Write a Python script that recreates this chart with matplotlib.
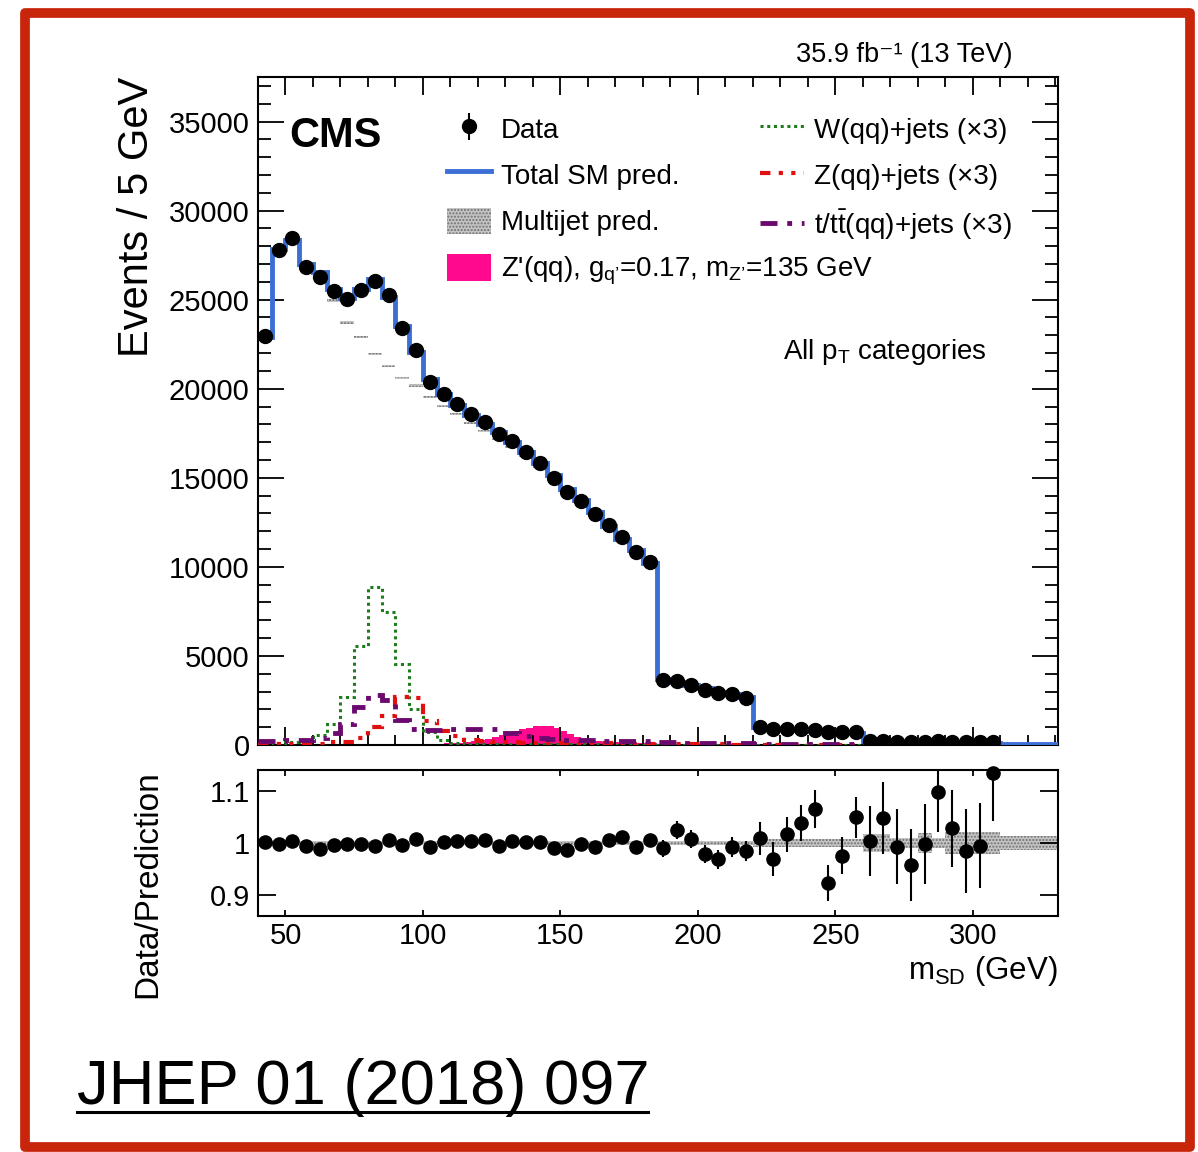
import numpy as np
import matplotlib.pyplot as plt
from matplotlib.patches import Rectangle
from matplotlib.lines import Line2D
from matplotlib.ticker import MultipleLocator

plt.rcParams['font.family'] = ['Liberation Sans', 'DejaVu Sans']
plt.rcParams['mathtext.fontset'] = 'custom'
plt.rcParams['mathtext.rm'] = 'Liberation Sans'
plt.rcParams['mathtext.it'] = 'Liberation Sans:italic'
plt.rcParams['mathtext.bf'] = 'Liberation Sans:bold'

# soft-drop mass binning, 5 GeV bins starting at 40 GeV
bin_lo = 40
bin_w = 5

# observed events, 40-310 GeV
data = [22940, 27770, 28465, 26836, 26275, 25505, 25056, 25562, 26050, 25281,
        23410, 22191, 20377, 19720, 19165, 18590, 18130, 17472, 17040, 16444,
        15826, 14983, 14197, 13708, 12978, 12377, 11703, 10860, 10260,
        3652, 3612, 3371, 3109, 2902, 2846, 2659,
        993, 918, 918, 880, 861, 712, 730, 730,
        225, 225, 190, 190, 170, 200, 190, 150, 150, 150]

# data / total prediction
ratio = [1.001, 0.998, 1.004, 0.994, 0.989, 0.996, 0.999, 0.999, 0.995, 1.006,
         0.996, 1.007, 0.993, 1.001, 1.004, 1.004, 1.006, 0.995, 1.003, 1.001,
         1.001, 0.990, 0.986, 0.998, 0.992, 1.005, 1.012, 0.992, 1.006,
         0.990, 1.025, 1.008, 0.979, 0.969, 0.992, 0.985,
         1.009, 0.969, 1.017, 1.038, 1.066, 0.924, 0.976, 1.049,
         1.004, 1.048, 0.993, 0.958, 0.998, 1.098, 1.028, 0.985, 0.995, 1.134]

# total prediction above 310 GeV (no data shown)
pred_tail = [45, 40, 35, 30, 30]

# V+jets templates scaled by 3, 40-335 GeV
w_jets = [60, 90, 150, 300, 562, 1161, 2715, 5562, 8858, 7452,
          4532, 2022, 749, 280, 120, 80, 60, 50, 45, 40,
          40, 38, 36, 34, 32, 30, 28, 26, 25,
          15, 15, 14, 13, 12, 12, 11,
          8, 8, 8, 7, 7, 6, 6, 6,
          4, 4, 4, 4, 3, 3, 3, 3, 3, 3,
          2, 2, 2, 2, 2]
z_jets = [40, 45, 50, 60, 80, 150, 190, 375, 1030, 1650,
          2715, 2650, 1350, 800, 500, 300, 220, 180, 150, 130,
          120, 110, 100, 95, 90, 85, 80, 75, 70,
          35, 35, 32, 30, 30, 28, 25,
          15, 15, 14, 14, 13, 12, 12, 12,
          6, 6, 6, 5, 5, 5, 5, 5, 4, 4,
          4, 4, 4, 4, 4]
top_jets = [200, 230, 260, 280, 420, 650, 1160, 2150, 2800, 2500,
            1400, 900, 850, 850, 900, 900, 900, 920, 650, 500,
            400, 350, 300, 280, 260, 250, 240, 230, 220,
            150, 145, 140, 135, 130, 125, 120,
            80, 78, 76, 74, 72, 70, 68, 66,
            40, 38, 36, 34, 32, 30, 28, 26, 24, 22,
            20, 18, 16, 14, 12]

# Z'(qq) signal: 5 GeV bins 40-100, 2.5 GeV bins 100-190, 5 GeV bins 190-335
sig_low = [50, 55, 60, 60, 60, 65, 65, 70, 70, 70, 70, 70]
sig_peak = [70, 70, 80, 90, 100, 120, 160, 200, 260, 330, 450, 560,
            700, 760, 880, 980, 1040, 1080, 1060, 980, 800, 600, 450, 330,
            270, 220, 190, 170, 150, 140, 130, 120, 110, 100, 80, 70]
sig_high = [65, 65, 60, 60, 60, 60, 60, 55, 55, 55, 55, 55, 50, 50, 50,
            50, 50, 50, 50, 50, 50, 50, 50, 50, 50, 50, 50, 50, 50]

# relative uncertainty of the prediction
band_edges = [40, 185, 220, 260, 270, 280, 285, 290, 310, 335]
band_unc = [0.003, 0.004, 0.008, 0.018, 0.010, 0.020, 0.010, 0.022, 0.013]

data = np.array(data, dtype=float)
ratio = np.array(ratio)
n_data = len(data)
n_bins = n_data + len(pred_tail)
edges = bin_lo + bin_w * np.arange(n_bins + 1)
centers = edges[:-1] + bin_w / 2

pred = np.concatenate([data / ratio, pred_tail])
vjets = (np.array(w_jets) + np.array(z_jets) + np.array(top_jets)) / 3.0
multijet = pred - vjets
unc_bin = np.array(band_unc)[np.searchsorted(band_edges, centers, side='right') - 1]

sig = np.concatenate([sig_low, sig_peak, sig_high])
sig_edges = np.concatenate([40 + 5 * np.arange(12), 100 + 2.5 * np.arange(36),
                            190 + 5 * np.arange(30)])

blue = '#3B6FD6'
pink = '#FF0A8E'
green = '#1E7B1E'
red = '#E01010'
purple = '#6B0A6E'
w_style = (0, (1, 1.2))
z_style = (0, (2.5, 2, 1, 2, 1, 2))
t_style = (0, (3.5, 2, 1, 2))
band_kw = dict(fill=True, facecolor='#c4c4c4', edgecolor='#707070', hatch='.....', linewidth=0)

fig = plt.figure(figsize=(11.98, 11.52), dpi=100)
ax = fig.add_axes([258 / 1198, 1 - 745 / 1152, 800 / 1198, 668 / 1152])
rax = fig.add_axes([258 / 1198, 1 - 916 / 1152, 800 / 1198, 146 / 1152])

# main panel
h_sig = ax.stairs(sig, sig_edges, fill=True, color=pink, baseline=0, zorder=1)
h_mj = ax.stairs(multijet * (1 + unc_bin), edges, baseline=multijet * (1 - unc_bin),
                 zorder=2, **band_kw)
ax.stairs(w_jets, edges, baseline=None, color=green, lw=2.2, linestyle=w_style, zorder=3)
ax.stairs(z_jets, edges, baseline=None, color=red, lw=3, linestyle=z_style, zorder=3)
ax.stairs(top_jets, edges, baseline=None, color=purple, lw=3.5, linestyle=t_style, zorder=3)
h_tot = ax.stairs(pred, edges, baseline=None, color=blue, lw=3.5, zorder=4)
h_data = ax.errorbar(centers[:n_data], data, yerr=np.sqrt(data), fmt='o', color='k',
                     ms=10, elinewidth=1.5, capsize=0, zorder=5)

ax.set_xlim(40, 331)
ax.set_ylim(0, 37500)
ax.xaxis.set_major_locator(MultipleLocator(50))
ax.xaxis.set_minor_locator(MultipleLocator(10))
ax.yaxis.set_major_locator(MultipleLocator(5000))
ax.yaxis.set_minor_locator(MultipleLocator(1000))
ax.tick_params(which='both', direction='in', top=True, right=True, width=1.3,
               labelsize=21, labelbottom=False, pad=6)
ax.tick_params(axis='y', which='major', length=19)
ax.tick_params(axis='y', which='minor', length=9.5)
ax.tick_params(axis='x', which='major', length=13)
ax.tick_params(axis='x', which='minor', length=7)
for s in ax.spines.values():
    s.set_linewidth(1.5)

ax.set_ylabel('Events / 5 GeV', fontsize=30, loc='top')
ax.yaxis.set_label_coords(-0.126, 1.0)

ax.text(0.039, 0.942, 'CMS', transform=ax.transAxes, fontsize=30,
        fontweight='bold', ha='left', va='top')
ax.text(0.656, 0.578, r'All p$_{\rm T}$ categories', transform=ax.transAxes,
        fontsize=20, ha='left', va='baseline')
fig.text(1012 / 1198, 1 - 62 / 1152, '35.9 fb\u207b\u00b9 (13 TeV)', fontsize=19.5,
         ha='right', va='baseline')

leg_kw = dict(frameon=False, fontsize=20, borderpad=0, borderaxespad=0,
              handlelength=1.6, handletextpad=0.35, handleheight=1.1,
              labelspacing=0.63, loc='upper left')
leg1 = ax.legend([h_data, h_tot, h_mj, h_sig],
                 ['Data', 'Total SM pred.', 'Multijet pred.',
                  "Z'(qq), g$_{\\rm q\u2019}$=0.17, m$_{\\rm Z\u2019}$=135 GeV"],
                 bbox_to_anchor=(0.236, 0.943), **leg_kw)
ax.add_artist(leg1)
ax.legend([Line2D([], [], color=green, lw=2.2, linestyle=w_style),
           Line2D([], [], color=red, lw=3, linestyle=z_style),
           Line2D([], [], color=purple, lw=3.5, linestyle=t_style)],
          ['W(qq)+jets (\u00d73)', 'Z(qq)+jets (\u00d73)',
           't/t$\\bar{\\rm t}$(qq)+jets (\u00d73)'],
          bbox_to_anchor=(0.6275, 0.943), **leg_kw)

# ratio panel
rax.stairs(1 + np.array(band_unc), band_edges, baseline=1 - np.array(band_unc), **band_kw)
r_err = np.sqrt(data) / pred[:n_data]
rline, _, _ = rax.errorbar(centers[:n_data], ratio, yerr=r_err, fmt='o', color='k',
                           ms=9.5, elinewidth=1.5, capsize=0, zorder=5)
rline.set_clip_on(False)

rax.set_xlim(40, 331)
rax.set_ylim(0.86, 1.14)
rax.xaxis.set_major_locator(MultipleLocator(50))
rax.set_yticks([0.9, 1.0, 1.1])
rax.set_yticklabels(['0.9', '1', '1.1'])
rax.tick_params(which='both', direction='in', top=True, right=True, width=1.3,
                labelsize=21)
rax.tick_params(axis='y', length=13, pad=6)
rax.tick_params(axis='x', length=4.5, pad=4)
for s in rax.spines.values():
    s.set_linewidth(1.5)

rax.set_ylabel('Data/Prediction', fontsize=24, loc='top')
rax.yaxis.set_label_coords(-0.118, 1.0)
rax.set_xlabel(r'm$_{\rm SD}$ (GeV)', fontsize=22.5, loc='right')
rax.xaxis.set_label_coords(1.0, -0.26)

# journal reference and frame
fig.text(77 / 1198, 1 - 1104 / 1152, 'JHEP 01 (2018) 097', fontsize=45.5,
         ha='left', va='baseline')
fig.add_artist(Line2D([77 / 1198, 648 / 1198], [1 - 1112 / 1152, 1 - 1112 / 1152],
                      transform=fig.transFigure, color='k', lw=2.2))
fig.add_artist(Rectangle((25 / 1198, 1 - 1147 / 1152), 1165 / 1198, 1134 / 1152,
                         transform=fig.transFigure, fill=False, edgecolor='#C8250B',
                         lw=7, joinstyle='round'))

fig.savefig('out.png', dpi=100)
